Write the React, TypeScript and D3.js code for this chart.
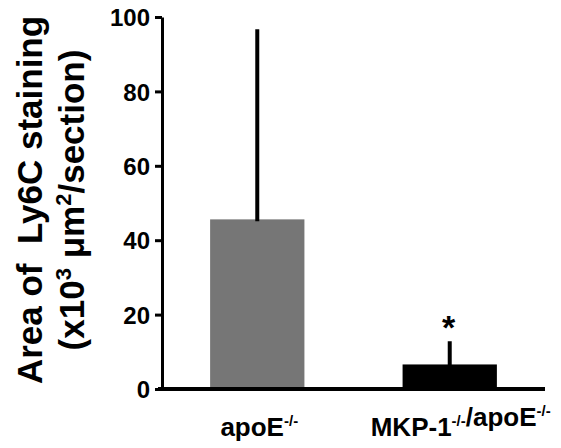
import React, { useEffect, useRef } from "react";
import * as d3 from "d3";

// values (x10^3 um^2/section)
const groups = ["apoE", "MKP-1"];
const means = [45.6, 6.6];
const errUpper = [96.2, 12.3];
const barColors = ["#767676", "#000000"];
const yTicks = [0, 20, 40, 60, 80, 100];
const significant = [false, true];

const FONT = "'Liberation Sans', Arial, Helvetica, sans-serif";

const App = () => {
  const svgRef = useRef<SVGSVGElement>(null);

  useEffect(() => {
    const w = 561;
    const h = 448;
    const svg = d3.select(svgRef.current).attr("width", w).attr("height", h);
    svg.selectAll("*").remove();

    const xScale = d3
      .scaleBand()
      .domain(groups)
      .range([162, 545])
      .paddingInner(0.51)
      .paddingOuter(0.25);

    const yScale = d3.scaleLinear().domain([0, 100]).range([389, 17]);

    // bars
    svg
      .selectAll(".bar")
      .data(means)
      .join("rect")
      .attr("class", "bar")
      .attr("x", (d, i) => xScale(groups[i]))
      .attr("width", xScale.bandwidth())
      .attr("y", (d) => yScale(d))
      .attr("height", (d) => yScale(0) - yScale(d))
      .attr("fill", (d, i) => barColors[i]);

    // upper error bars
    svg
      .selectAll(".err")
      .data(errUpper)
      .join("line")
      .attr("class", "err")
      .attr("x1", (d, i) => xScale(groups[i]) + xScale.bandwidth() / 2)
      .attr("x2", (d, i) => xScale(groups[i]) + xScale.bandwidth() / 2)
      .attr("y1", (d, i) => yScale(means[i]))
      .attr("y2", (d) => yScale(d))
      .attr("stroke", "#000")
      .attr("stroke-width", 4)
      .attr("stroke-linecap", "square");

    // asterisk
    svg
      .selectAll(".star")
      .data(errUpper.filter((d, i) => significant[i]))
      .join("text")
      .attr("class", "star")
      .attr("x", () => xScale(groups[1]) + xScale.bandwidth() / 2 - 1)
      .attr("y", (d) => yScale(d) - 4)
      .attr("text-anchor", "middle")
      .attr("font-family", FONT)
      .attr("font-weight", "bold")
      .attr("font-size", 34)
      .text("*");

    // y axis
    const Yaxis = d3
      .axisLeft(yScale)
      .tickValues(yTicks)
      .tickSize(7)
      .tickPadding(5)
      .tickSizeOuter(0);

    const gy = svg.append("g").attr("transform", "translate(162,0)").call(Yaxis);
    gy.select(".domain").attr("stroke-width", 3);
    gy.selectAll(".tick line").attr("stroke-width", 3);
    gy.selectAll(".tick text")
      .attr("font-family", FONT)
      .attr("font-weight", "bold")
      .attr("font-size", 24)
      .attr("dy", "0.36em")
      .attr("fill", "#000");

    // x axis baseline
    svg
      .append("line")
      .attr("x1", 158)
      .attr("x2", 545)
      .attr("y1", yScale(0))
      .attr("y2", yScale(0))
      .attr("stroke", "#000")
      .attr("stroke-width", 4);

    // category labels
    const labels = [
      [["apoE", false], ["-/-", true]],
      [["MKP-1", false], ["-/-", true], ["/apoE", false], ["-/-", true]],
    ];
    const labelShift = [2, 11];
    labels.forEach((parts, i) => {
      const t = svg
        .append("text")
        .attr("x", xScale(groups[i]) + xScale.bandwidth() / 2 + labelShift[i])
        .attr("y", 436)
        .attr("text-anchor", "middle")
        .attr("font-family", FONT)
        .attr("font-weight", "bold")
        .attr("font-size", 26);
      parts.forEach(([s, sup]) => {
        t.append("tspan")
          .attr("font-size", sup ? 15 : 26)
          .attr("dy", sup ? -10 : 0)
          .text(s as string);
        if (sup) t.append("tspan").attr("dy", 10).text("");
      });
    });

    // y title
    const title = svg
      .append("g")
      .attr("font-family", FONT)
      .attr("font-weight", "bold")
      .attr("font-size", 35)
      .attr("text-anchor", "middle");

    title
      .append("text")
      .attr("transform", "translate(42,200) rotate(-90)")
      .style("white-space", "pre")
      .text("Area of  Ly6C staining");

    const t2 = title.append("text").attr("transform", "translate(84,200) rotate(-90)");
    t2.append("tspan").text("(x10");
    t2.append("tspan").attr("font-size", 22).attr("dy", -13).text("3");
    t2.append("tspan").attr("dy", 13).style("white-space", "pre").text(" \u03bcm");
    t2.append("tspan").attr("font-size", 22).attr("dy", -13).text("2");
    t2.append("tspan").attr("dy", 13).text("/section)");
  }, []);

  return (
    <svg
      ref={svgRef}
      style={{ position: "absolute", left: 0, top: 0, background: "#fff" }}
    />
  );
};

export default App;
